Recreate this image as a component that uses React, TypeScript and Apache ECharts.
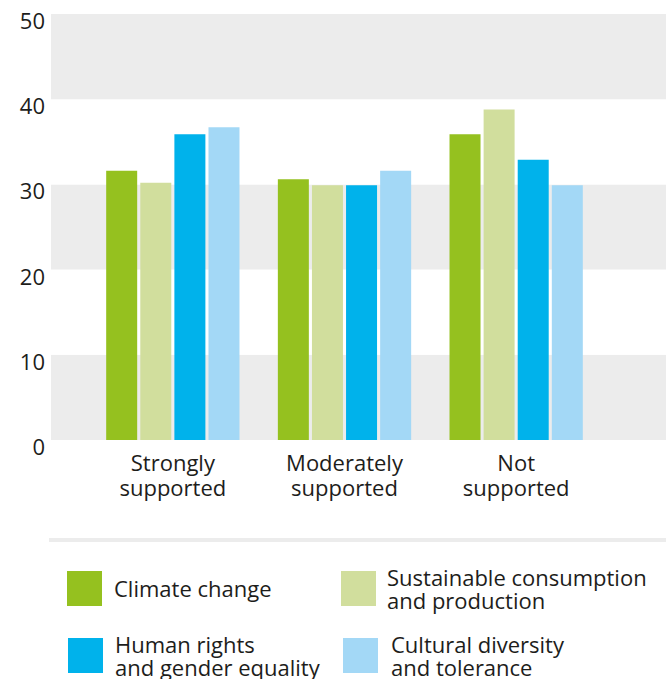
import React, { useEffect, useRef } from "react";
import * as echarts from "echarts";

const categories = ["Strongly\nsupported", "Moderately\nsupported", "Not\nsupported"];
const seriesNames = [
  "Climate change",
  "Sustainable consumption\nand production",
  "Human rights\nand gender equality",
  "Cultural diversity\nand tolerance",
];
const climateChange = [31.6, 30.6, 35.9];
const sustainable = [30.2, 29.9, 38.8];
const humanRights = [35.9, 29.9, 32.9];
const culturalDiversity = [36.7, 31.6, 29.9];
const seriesColors = ["#95c11f", "#d1de9d", "#00b2eb", "#a3d8f6"];
const yTicks = [0, 10, 20, 30, 40, 50];

const FONT = "Open Sans";
const TEXT = "#1d1d1b";

export default function App() {
  const ref = useRef<HTMLDivElement>(null);
  useEffect(() => {
    if (!ref.current) return;
    const chart = echarts.init(ref.current, null, { renderer: "svg" });
    const values = [climateChange, sustainable, humanRights, culturalDiversity];
    const legendPos = [
      { sx: 67, sy: 571, tx: 114, ty: 588 },
      { sx: 341, sy: 571, tx: 387, ty: 588 },
      { sx: 68, sy: 638, tx: 115, ty: 655 },
      { sx: 343, sy: 638, tx: 391, ty: 655 },
    ];
    const legendGraphics: any[] = [];
    seriesNames.forEach((n, i) => {
      const p = legendPos[i];
      legendGraphics.push({
        type: "rect",
        shape: { x: p.sx, y: p.sy, width: 35, height: 35 },
        style: { fill: seriesColors[i] },
      });
      legendGraphics.push({
        type: "text",
        x: p.tx,
        y: p.ty,
        style: {
          text: n,
          fontFamily: FONT,
          fontSize: 22,
          lineHeight: 23,
          fill: TEXT,
          verticalAlign: "middle",
          align: "left",
        },
      });
    });
    chart.setOption({
      animation: false,
      grid: [
        { left: 51, right: 0, top: 14, height: 426 },
        { left: 87, width: 515, top: 14, height: 426 },
      ],
      xAxis: [
        { type: "value", gridIndex: 0, show: false, min: 0, max: 1 },
        {
          type: "category",
          gridIndex: 1,
          data: categories,
          axisLine: { show: false },
          axisTick: { show: false },
          axisLabel: {
            fontFamily: FONT,
            fontSize: 22,
            color: TEXT,
            lineHeight: 25,
            margin: 9,
          },
        },
      ],
      yAxis: [
        {
          type: "value",
          gridIndex: 0,
          min: yTicks[0],
          max: yTicks[yTicks.length - 1],
          interval: 10,
          axisLine: { show: false },
          axisTick: { show: false },
          splitLine: { show: false },
          splitArea: { show: true, areaStyle: { color: ["#ececec", "#ffffff"] } },
          axisLabel: {
            fontFamily: FONT,
            fontSize: 22,
            color: TEXT,
            margin: 6,
            verticalAlign: "top",
            padding: [-5, 0, 0, 0],
          },
        },
        {
          type: "value",
          gridIndex: 1,
          min: 0,
          max: 50,
          interval: 10,
          show: false,
          splitLine: { show: false },
        },
      ],
      graphic: [
        {
          type: "rect",
          shape: { x: 49, y: 538, width: 617, height: 4 },
          style: { fill: "#ececec" },
        },
        ...legendGraphics,
      ],
      series: seriesNames.map((n, i) => ({
        name: n,
        type: "bar",
        xAxisIndex: 1,
        yAxisIndex: 1,
        data: values[i],
        barWidth: 31,
        barGap: "10%",
        itemStyle: { color: seriesColors[i] },
      })),
    });
    return () => chart.dispose();
  }, []);
  return (
    <div
      ref={ref}
      style={{ position: "absolute", left: 0, top: 0, width: 666, height: 679 }}
    />
  );
}
